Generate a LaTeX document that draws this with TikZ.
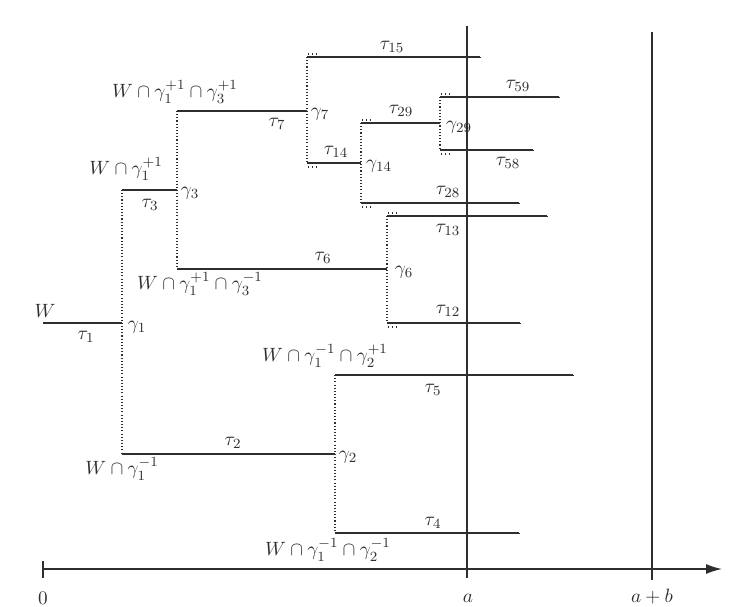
\documentclass[tikz,border=0pt]{standalone}
\usepackage{amsmath,amssymb}
\usetikzlibrary{arrows.meta,positioning,calc}
\definecolor{inkgray}{HTML}{2E2E2E}
\tikzset{
  >={Latex[length=3.2mm,width=2mm]},
  % tree
  br/.style={draw=inkgray,line width=0.6pt},
  split/.style={draw=inkgray,line width=0.6pt,dash pattern=on 0.6pt off 1.2pt},
  more/.style={draw=inkgray,line width=0.7pt,dash pattern=on 0.7pt off 1.6pt},
  lbl/.style={inner sep=1pt,text=inkgray,font=\fontsize{11}{13}\selectfont},
  % axis
  ax/.style={draw=inkgray,line width=0.8pt},
  guide/.style={draw=inkgray,line width=0.6pt},
}
\newcommand{\opentick}[1]{\draw[more] (#1) -- ++(0,4);}

\begin{document}
\begin{tikzpicture}[x=0.02cm,y=-0.02cm]
\useasboundingbox (0,0) rectangle (732,606);
  % branch points
  \coordinate (w0) at (43,323);
  \coordinate (g1) at (122,323);
  \coordinate (g1u) at (122,190);
  \coordinate (g1d) at (122,454);
  \coordinate (g3) at (177,190);
  \coordinate (g3u) at (177,111);
  \coordinate (g3d) at (177,269);
  \coordinate (g7) at (307,111);
  \coordinate (g7u) at (307,57);
  \coordinate (g7d) at (307,163);
  \coordinate (g14) at (361,163);
  \coordinate (g14u) at (361,123);
  \coordinate (g14d) at (361,203);
  \coordinate (g29) at (440,123);
  \coordinate (g29u) at (440,97);
  \coordinate (g29d) at (440,150);
  \coordinate (g6) at (387,269);
  \coordinate (g6u) at (387,216);
  \coordinate (g6d) at (387,323);
  \coordinate (g2) at (335,454);
  \coordinate (g2u) at (335,375);
  \coordinate (g2d) at (335,533);
  % free ends
  \coordinate (e15) at (480,57);
  \coordinate (e59) at (559,97);
  \coordinate (e58) at (533,150);
  \coordinate (e28) at (519,203);
  \coordinate (e13) at (547,216);
  \coordinate (e12) at (520,323);
  \coordinate (e5) at (573,375);
  \coordinate (e4) at (519,533);

  % axis
  \coordinate (o) at (43,569);
  \coordinate (xend) at (722,569);
  \coordinate (atop) at (467,26);
  \coordinate (abot) at (467,578);
  \coordinate (btop) at (652,32);
  \coordinate (bbot) at (652,580);
  \draw[ax,->] (o) -- (xend);
  \draw[guide] (43,561) -- (43,578);
  \draw[guide] (atop) -- (abot);
  \draw[guide] (btop) -- (bbot);
  \node[lbl] (l0) at (43,598) {$0$};
  \node[lbl] (la) at (468,598) {$a$};
  \node[lbl] (lab) at (652,597) {$a+b$};

  % horizontal pieces
  \draw[br] (w0) -- (g1);
  \draw[br] (g1u) -- (g3);
  \draw[br] (g3u) -- (g7);
  \draw[br] (g3d) -- (g6);
  \draw[br] (g1d) -- (g2);
  \draw[br] (g7u) -- (e15);
  \draw[br] (g7d) -- (g14);
  \draw[br] (g14u) -- (g29);
  \draw[br] (g14d) -- (e28);
  \draw[br] (g29u) -- (e59);
  \draw[br] (g29d) -- (e58);
  \draw[br] (g6u) -- (e13);
  \draw[br] (g6d) -- (e12);
  \draw[br] (g2u) -- (e5);
  \draw[br] (g2d) -- (e4);
  % splits
  \draw[split] (g1u) -- (g1d);
  \draw[split] (g3u) -- (g3d);
  \draw[split] (g7u) -- (g7d);
  \draw[split] (g14u) -- (g14d);
  \draw[split] (g29u) -- (g29d);
  \draw[split] (g6u) -- (g6d);
  \draw[split] (g2u) -- (g2d);
  % unfinished ends
  \foreach \e in {e15,e59,e58,e28,e13,e12,e5,e4} {\opentick{\e}}
  \draw[more] ($(g7u)+(1,-3)$) -- ++(11,0);
  \draw[more] ($(g7d)+(1,4)$) -- ++(11,0);
  \draw[more] ($(g14u)+(1,-3)$) -- ++(11,0);
  \draw[more] ($(g14d)+(1,4)$) -- ++(11,0);
  \draw[more] ($(g29u)+(1,-3)$) -- ++(11,0);
  \draw[more] ($(g29d)+(1,4)$) -- ++(11,0);
  \draw[more] ($(g6u)+(1,-3)$) -- ++(11,0);
  \draw[more] ($(g6d)+(1,4)$) -- ++(11,0);

  % labels
  \node[lbl] (lW) at (45,311) {$W$};
  \node[lbl] (lt1) at (86,337) {$\tau_1$};
  \node[lbl] (lg1) at (137,327) {$\gamma_1$};
  \node[lbl] (lW1p) at (126,169) {$W\cap\gamma_1^{+1}$};
  \node[lbl] (lt3) at (150,205) {$\tau_3$};
  \node[lbl] (lg3) at (190,193) {$\gamma_3$};
  \node[lbl] (lW3p) at (175,92) {$W\cap\gamma_1^{+1}\cap\gamma_3^{+1}$};
  \node[lbl] (lt7) at (277,124) {$\tau_7$};
  \node[lbl] (lg7) at (320,114) {$\gamma_7$};
  \node[lbl] (lt15) at (392,47) {$\tau_{15}$};
  \node[lbl] (lt14) at (336,152) {$\tau_{14}$};
  \node[lbl] (lg14) at (379,166) {$\gamma_{14}$};
  \node[lbl] (lt29) at (401,111) {$\tau_{29}$};
  \node[lbl] (lg29) at (459,127) {$\gamma_{29}$};
  \node[lbl] (lt59) at (518,86) {$\tau_{59}$};
  \node[lbl] (lt58) at (508,163) {$\tau_{58}$};
  \node[lbl] (lt28) at (448,192) {$\tau_{28}$};
  \node[lbl] (lt13) at (448,230) {$\tau_{13}$};
  \node[lbl] (lt6) at (323,258) {$\tau_6$};
  \node[lbl] (lg6) at (404,272) {$\gamma_6$};
  \node[lbl] (lW3m) at (200,284) {$W\cap\gamma_1^{+1}\cap\gamma_3^{-1}$};
  \node[lbl] (lt12) at (448,311) {$\tau_{12}$};
  \node[lbl] (lW1m) at (122,469) {$W\cap\gamma_1^{-1}$};
  \node[lbl] (lt2) at (233,443) {$\tau_2$};
  \node[lbl] (lg2) at (348,457) {$\gamma_2$};
  \node[lbl] (lW2p) at (325,356) {$W\cap\gamma_1^{-1}\cap\gamma_2^{+1}$};
  \node[lbl] (lt5) at (433,390) {$\tau_5$};
  \node[lbl] (lt4) at (433,523) {$\tau_4$};
  \node[lbl] (lW2m) at (328,550) {$W\cap\gamma_1^{-1}\cap\gamma_2^{-1}$};
\end{tikzpicture}
\end{document}
